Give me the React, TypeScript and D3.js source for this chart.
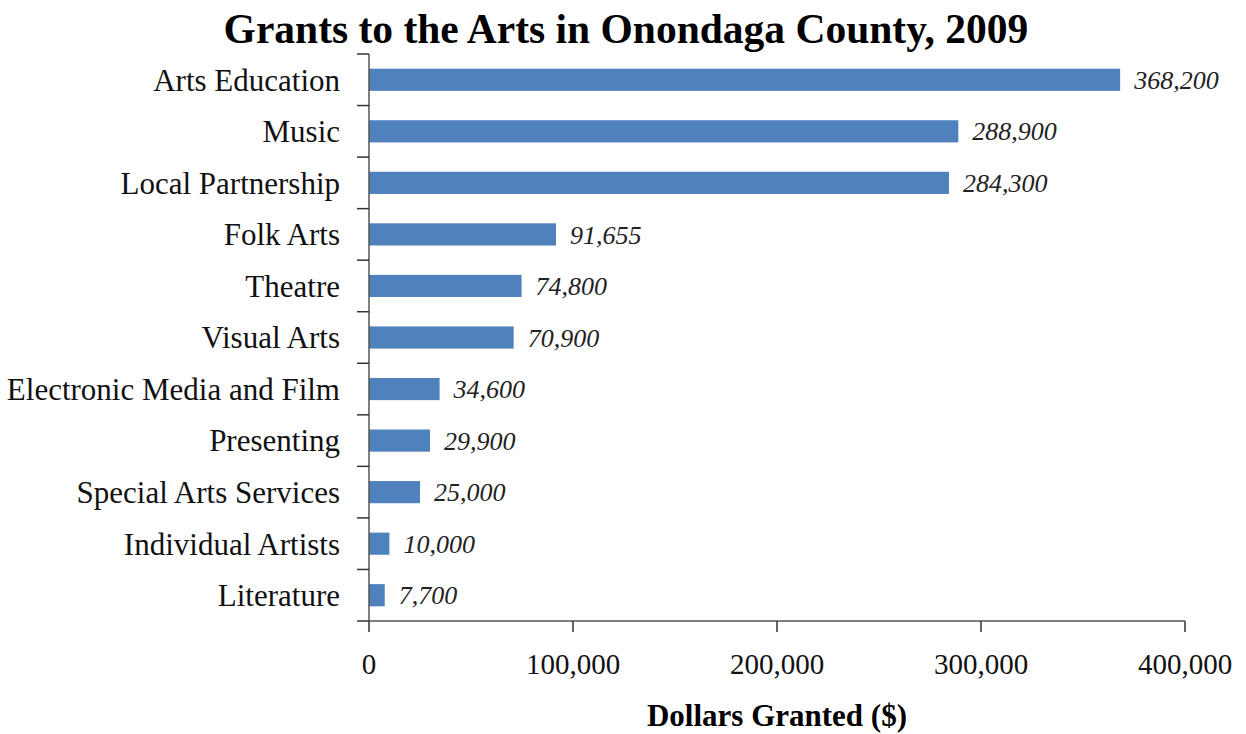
import React from "react";
import * as d3 from "d3";

const categories = [
  "Arts Education",
  "Music",
  "Local Partnership",
  "Folk Arts",
  "Theatre",
  "Visual Arts",
  "Electronic Media and Film",
  "Presenting",
  "Special Arts Services",
  "Individual Artists",
  "Literature",
];
const values = [368200, 288900, 284300, 91655, 74800, 70900, 34600, 29900, 25000, 10000, 7700];
const xTicks = [0, 100000, 200000, 300000, 400000];

const W = 1246;
const H = 734;
const left = 369;
const right = 1185;
const top = 54;
const bottom = 621;
const FONT = "'Liberation Serif', 'Times New Roman', serif";

export default function App() {
  const x = d3.scaleLinear().domain([0, 400000]).range([left, right]);
  const y = d3.scaleBand<string>().domain(categories).range([top, bottom]).paddingInner(0.57).paddingOuter(0.285);
  const band = (bottom - top) / categories.length;
  const fmt = d3.format(",");
  const boundaries = d3.range(categories.length + 1).map((i) => top + i * band);

  return (
    <svg width={W} height={H} style={{ position: "absolute", left: 0, top: 0, background: "#fff" }}>
      <text x={626} y={43} textAnchor="middle" fontFamily={FONT} fontWeight="bold" fontSize={41.5} fill="#000">
        Grants to the Arts in Onondaga County, 2009
      </text>
      {categories.map((c, i) => (
        <g key={c}>
          <rect x={x(0)} y={y(c)!} width={x(values[i]) - x(0)} height={y.bandwidth()} fill="#4F81BD" />
          <text
            x={x(values[i]) + 14}
            y={y(c)! + y.bandwidth() / 2}
            dy="0.35em"
            fontFamily={FONT}
            fontStyle="italic"
            fontSize={26}
            fill="#222"
          >
            {fmt(values[i])}
          </text>
          <text
            x={340}
            y={y(c)! + y.bandwidth() / 2}
            dy="0.35em"
            textAnchor="end"
            fontFamily={FONT}
            fontSize={31}
            fill="#111"
          >
            {c}
          </text>
        </g>
      ))}
      <line x1={left} x2={left} y1={top} y2={bottom} stroke="#555" strokeWidth={1.5} />
      {boundaries.map((b, i) => (
        <line key={i} x1={left - 12} x2={left} y1={b} y2={b} stroke="#333" strokeWidth={1.5} />
      ))}
      <line x1={left} x2={right} y1={bottom} y2={bottom} stroke="#555" strokeWidth={1.5} />
      {xTicks.map((t) => (
        <g key={t}>
          <line x1={x(t)} x2={x(t)} y1={bottom} y2={bottom + 11} stroke="#333" strokeWidth={1.5} />
          <text x={x(t)} y={674} textAnchor="middle" fontFamily={FONT} fontSize={29} fill="#111">
            {fmt(t)}
          </text>
        </g>
      ))}
      <text x={(left + right) / 2} y={726} textAnchor="middle" fontFamily={FONT} fontWeight="bold" fontSize={31} fill="#000">
        Dollars Granted ($)
      </text>
    </svg>
  );
}
